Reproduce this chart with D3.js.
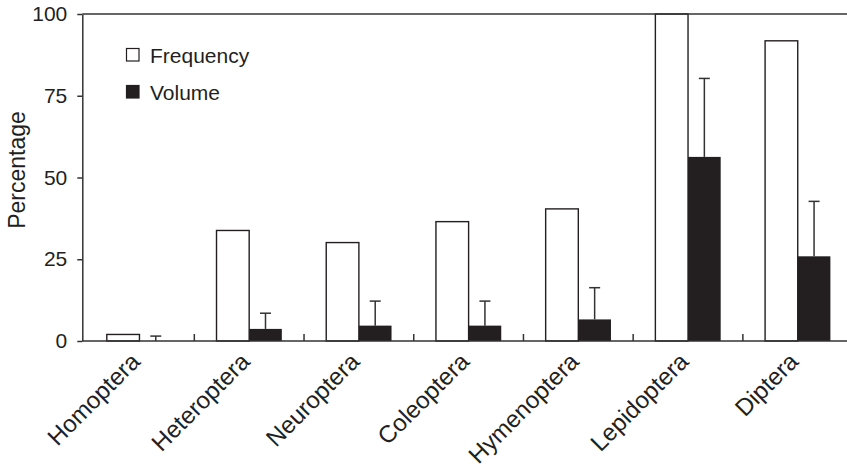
<!DOCTYPE html>
<html>
<head>
<meta charset="utf-8">
<script src="https://cdn.jsdelivr.net/npm/d3@7"></script>
<style>
  body { margin: 0; background: #fff; }
  text { font-family: "Liberation Sans", Arial, sans-serif; fill: #231f20; }
</style>
</head>
<body>
<div id="chart"></div>
<script>
// data
const orders = ['Homoptera', 'Heteroptera', 'Neuroptera', 'Coleoptera', 'Hymenoptera', 'Lepidoptera', 'Diptera'];
const frequency = [2, 33.8, 30.1, 36.5, 40.4, 100, 91.8];
const volume = [0, 3.7, 4.7, 4.7, 6.6, 56.3, 25.9];
const volumeSD = [1.5, 4.8, 7.5, 7.5, 9.7, 24, 16.8];
const yTicks = [0, 25, 50, 75, 100];

const width = 847, height = 475;
const ink = '#231f20';

const svg = d3.select('#chart').append('svg')
    .attr('width', width).attr('height', height);

// scales
const x = d3.scaleBand().domain(orders).range([84.6, 852.6]).padding(0);
const xInner = d3.scaleBand().domain(['freq', 'vol'])
    .range([0, x.bandwidth()]).paddingInner(0).paddingOuter(0.68);
const y = d3.scaleLinear().domain([0, 100]).range([341, 14]);

const rows = orders.map((o, i) => ({ o, f: frequency[i], v: volume[i], sd: volumeSD[i] }));

// frequency bars (open)
svg.append('g').selectAll('rect')
    .data(rows.filter(d => d.f > 0))
    .join('rect')
    .attr('x', d => x(d.o) + xInner('freq'))
    .attr('y', d => y(d.f))
    .attr('width', xInner.bandwidth())
    .attr('height', d => y(0) - y(d.f))
    .attr('fill', '#fff')
    .attr('stroke', ink)
    .attr('stroke-width', 1.4);

// volume bars (filled)
svg.append('g').selectAll('rect')
    .data(rows.filter(d => d.v > 0))
    .join('rect')
    .attr('x', d => x(d.o) + xInner('vol'))
    .attr('y', d => y(d.v))
    .attr('width', xInner.bandwidth())
    .attr('height', d => y(0) - y(d.v))
    .attr('fill', ink);

// error bars (upper only)
const err = svg.append('g').attr('stroke', '#333').attr('stroke-width', 1.5);
const cx = d => x(d.o) + xInner('vol') + xInner.bandwidth() / 2;
err.selectAll('line.stem')
    .data(rows).join('line').attr('class', 'stem')
    .attr('x1', cx).attr('x2', cx)
    .attr('y1', d => y(d.v)).attr('y2', d => y(d.v + d.sd));
err.selectAll('line.cap')
    .data(rows).join('line').attr('class', 'cap')
    .attr('x1', d => cx(d) - 5.5).attr('x2', d => cx(d) + 5.5)
    .attr('y1', d => y(d.v + d.sd)).attr('y2', d => y(d.v + d.sd));

// axes
const axisY = svg.append('g')
    .attr('transform', 'translate(82.3,0)')
    .call(d3.axisLeft(y).tickValues(yTicks).tickSize(5).tickPadding(10).tickSizeOuter(0));
axisY.select('.domain').attr('stroke', '#333').attr('stroke-width', 1.5);
axisY.selectAll('.tick line').attr('stroke', '#333').attr('stroke-width', 1.5);
axisY.selectAll('.tick text').attr('font-size', 21).attr('fill', ink)
    .attr('font-family', '"Liberation Sans", Arial, sans-serif');

// baseline and top frame line
svg.append('line').attr('x1', 82.3).attr('x2', width).attr('y1', y(0)).attr('y2', y(0))
    .attr('stroke', '#333').attr('stroke-width', 1.5);
svg.append('line').attr('x1', 82.3).attr('x2', width).attr('y1', y(100)).attr('y2', y(100))
    .attr('stroke', '#333').attr('stroke-width', 1.5);

// group separator ticks
svg.append('g').selectAll('line')
    .data(orders.slice(1))
    .join('line')
    .attr('x1', d => x(d)).attr('x2', d => x(d))
    .attr('y1', y(0)).attr('y2', y(0) - 7)
    .attr('stroke', '#333').attr('stroke-width', 1.5);

// category labels
svg.append('g').selectAll('text')
    .data(orders)
    .join('text')
    .attr('transform', d => `translate(${x(d) + x.bandwidth() / 2 + 2},${363}) rotate(-45)`)
    .attr('text-anchor', 'end')
    .attr('font-size', 24)
    .text(d => d);

// y label
svg.append('text')
    .attr('transform', 'translate(25,170) rotate(-90)')
    .attr('text-anchor', 'middle')
    .attr('font-size', 23)
    .text('Percentage');

// legend
const legend = svg.append('g').attr('transform', 'translate(126,0)');
const legendItems = [
    { label: 'Frequency', fill: '#fff', y: 48 },
    { label: 'Volume', fill: ink, y: 85 }
];
const li = legend.selectAll('g').data(legendItems).join('g')
    .attr('transform', d => `translate(0,${d.y})`);
li.append('rect')
    .attr('x', 0.5).attr('y', 0.5).attr('width', 12.5).attr('height', 12.5)
    .attr('fill', d => d.fill).attr('stroke', ink).attr('stroke-width', 1.2);
li.append('text')
    .attr('x', 24).attr('y', 15)
    .attr('font-size', 21)
    .text(d => d.label);
</script>
</body>
</html>
